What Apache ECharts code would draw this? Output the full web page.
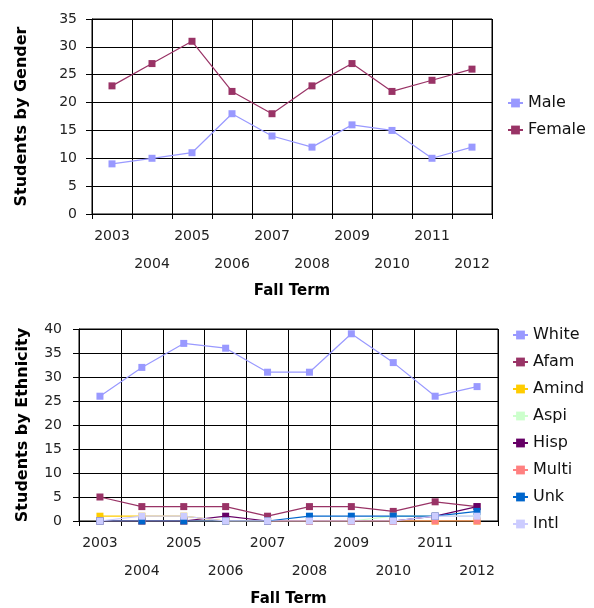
<!DOCTYPE html>
<html>
<head>
<meta charset="utf-8">
<script src="https://cdn.jsdelivr.net/npm/echarts@6/dist/echarts.min.js"></script>
<style>
  html, body { margin: 0; padding: 0; background: #fff; }
  #chart { width: 594px; height: 608px; }
</style>
</head>
<body>
<div id="chart"></div>
<script>
// Fall terms shared by both panels
const terms = ['2003', '2004', '2005', '2006', '2007', '2008', '2009', '2010', '2011', '2012'];

// Enrolment by gender
const male   = [9, 10, 11, 18, 14, 12, 16, 15, 10, 12];
const female = [23, 27, 31, 22, 18, 23, 27, 22, 24, 26];

// Enrolment by ethnicity
const white = [26, 32, 37, 36, 31, 31, 39, 33, 26, 28];
const afam  = [5, 3, 3, 3, 1, 3, 3, 2, 4, 3];
const amind = [1, 1, 1, 0, 0, 0, 0, 0, 0, 0];
const aspi  = [0, 0, 0, 0, 0, 0, 0, 1, 1, 1];
const hisp  = [0, 0, 0, 1, 0, 0, 0, 0, 1, 3];
const multi = [0, 0, 0, 0, 0, 0, 0, 0, 0, 0];
const unk   = [0, 0, 0, 0, 0, 1, 1, 1, 1, 2];
const intl  = [0, 1, 1, 0, 0, 0, 0, 0, 1, 1];

const FONT = 'DejaVu Sans';

const genderSeries = [
  { name: 'Male', data: male, color: '#9999ff' },
  { name: 'Female', data: female, color: '#993366' }
];
const ethnicSeries = [
  { name: 'White', data: white, color: '#9999ff' },
  { name: 'Afam', data: afam, color: '#993366' },
  { name: 'Amind', data: amind, color: '#ffcc00' },
  { name: 'Aspi', data: aspi, color: '#ccffcc' },
  { name: 'Hisp', data: hisp, color: '#660066' },
  { name: 'Multi', data: multi, color: '#ff8080' },
  { name: 'Unk', data: unk, color: '#0066cc' },
  { name: 'Intl', data: intl, color: '#ccccff' }
];

function xAxisFor(gridIndex, nameGap) {
  return {
    type: 'category',
    gridIndex: gridIndex,
    data: terms,
    boundaryGap: true,
    name: 'Fall Term',
    nameLocation: 'middle',
    nameGap: nameGap,
    nameTextStyle: { fontFamily: FONT, fontWeight: 'bold', fontSize: 15, color: '#000' },
    axisLine: { show: true, lineStyle: { color: '#000', width: 1 } },
    axisTick: { show: true, length: 5, lineStyle: { color: '#000' }, interval: 0 },
    axisLabel: {
      interval: 0,
      margin: 8,
      fontFamily: FONT,
      fontSize: 14,
      color: '#222',
      lineHeight: 28,
      // alternate years drop to a second row
      formatter: (v, i) => (i % 2 ? '\n' + v : v)
    },
    splitLine: { show: true, interval: 0, lineStyle: { color: '#000', width: 1 } }
  };
}

function yAxisFor(gridIndex, max, title, nameGap, labelMargin) {
  return {
    type: 'value',
    gridIndex: gridIndex,
    min: 0,
    max: max,
    interval: 5,
    name: title,
    nameLocation: 'middle',
    nameGap: nameGap,
    nameTextStyle: { fontFamily: FONT, fontWeight: 'bold', fontSize: 16, color: '#000' },
    axisLine: { show: true, lineStyle: { color: '#000', width: 1 } },
    axisTick: { show: true, length: 6, lineStyle: { color: '#000' } },
    axisLabel: { margin: labelMargin, fontFamily: FONT, fontSize: 14, color: '#222' },
    splitLine: { show: true, lineStyle: { color: '#000', width: 1 } }
  };
}

function lineSeries(s, idx) {
  return {
    type: 'line',
    name: s.name,
    xAxisIndex: idx,
    yAxisIndex: idx,
    data: s.data,
    symbol: 'rect',
    symbolSize: 7,
    showAllSymbol: true,
    itemStyle: { color: s.color },
    lineStyle: { color: s.color, width: 1.2 },
    emphasis: { disabled: true }
  };
}

function legendFor(items, left, top) {
  return {
    data: items.map(s => s.name),
    orient: 'vertical',
    left: left,
    top: top,
    padding: 0,
    itemWidth: 15,
    itemHeight: 11,
    itemGap: 9,
    textStyle: { fontFamily: FONT, fontSize: 16, color: '#111', lineHeight: 18 },
    selectedMode: false
  };
}

const chart = echarts.init(document.getElementById('chart'), null, { renderer: 'canvas' });
chart.setOption({
  animation: false,
  backgroundColor: '#fff',
  grid: [
    { left: 92, top: 19, width: 400, height: 195, show: true, borderColor: '#000', borderWidth: 1 },
    { left: 79, top: 329, width: 419, height: 194, show: true, borderColor: '#000', borderWidth: 1 }
  ],
  xAxis: [xAxisFor(0, 70), xAxisFor(1, 71)],
  yAxis: [
    yAxisFor(0, 35, 'Students by Gender', 62, 15),
    yAxisFor(1, 40, 'Students by Ethnicity', 48, 17)
  ],
  legend: [
    legendFor(genderSeries, 507, 94),
    legendFor(ethnicSeries, 512, 326)
  ],
  series: [
    ...genderSeries.map(s => lineSeries(s, 0)),
    ...ethnicSeries.map(s => lineSeries(s, 1))
  ]
});
</script>
</body>
</html>
